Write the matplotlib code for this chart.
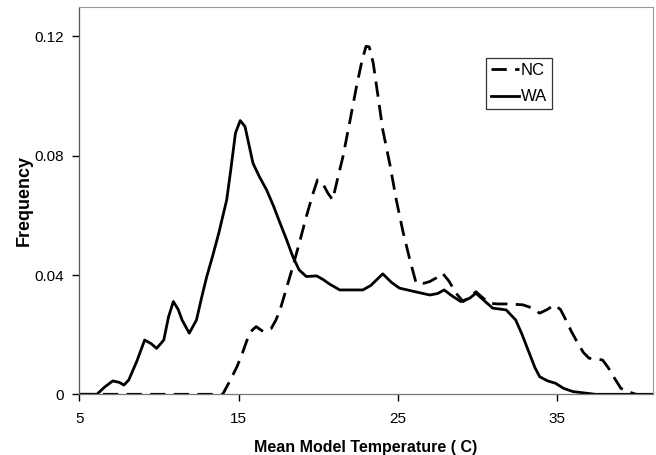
import matplotlib
matplotlib.use("Agg")
import matplotlib.pyplot as plt

# ── data ─────────────────────────────────────────────────────────────────────
wa_x = [5.0, 6.1, 6.6, 7.1, 7.5, 7.8, 8.1, 8.6, 9.1, 9.5, 9.85, 10.3, 10.6,
        10.9, 11.2, 11.45, 11.9, 12.35, 12.7, 13.0, 13.4, 13.75, 14.25, 14.5,
        14.8, 15.1, 15.4, 15.9, 16.3, 16.75, 17.2, 17.6, 18.0, 18.4, 18.8,
        19.25, 19.9, 20.3, 20.7, 21.35, 22.1, 22.8, 23.3, 24.05, 24.6, 25.1,
        26.0, 27.0, 27.5, 27.9, 28.4, 28.95, 29.5, 29.9, 30.4, 30.95, 31.8,
        32.4, 32.8, 33.25, 33.6, 33.9, 34.4, 34.9, 35.4, 36.0, 37.4, 41.0]
wa_y = [0.0, 0.0, 0.0025, 0.0045, 0.0040, 0.0031, 0.0048, 0.011, 0.0182, 0.0170,
        0.0154, 0.0182, 0.026, 0.0311, 0.0285, 0.0249, 0.0205, 0.0249, 0.033,
        0.0395, 0.047, 0.054, 0.0652, 0.075, 0.0876, 0.0918, 0.0898, 0.0775,
        0.073, 0.0686, 0.063, 0.0574, 0.052, 0.0462, 0.0417, 0.0395, 0.0397,
        0.0385, 0.0370, 0.0350, 0.0350, 0.0350, 0.0365, 0.0404, 0.0375, 0.0356,
        0.0345, 0.0333, 0.0338, 0.0350, 0.0330, 0.0311, 0.0322, 0.0339, 0.0315,
        0.0289, 0.0283, 0.0249, 0.020, 0.0138, 0.0090, 0.0059, 0.0045, 0.0037,
        0.0020, 0.0009, 0.0, 0.0]

nc_x = [5.0, 14.0, 14.45, 14.9, 15.25, 15.6, 15.85, 16.1, 16.55, 17.05, 17.35,
        17.6, 18.0, 18.4, 18.85, 19.25, 19.65, 19.95, 20.3, 20.6, 20.9, 21.2,
        21.55, 22.0, 22.4, 22.75, 23.0, 23.2, 23.45, 23.75, 24.05, 24.5, 24.9,
        25.3, 25.75, 26.15, 26.6, 27.0, 27.4, 27.8, 28.2, 28.65, 29.1, 29.5,
        29.9, 30.3, 30.75, 31.3, 31.8, 32.3, 32.85, 33.4, 33.9, 34.4, 34.8,
        35.2, 35.55, 35.9, 36.3, 36.65, 37.0, 37.5, 37.85, 38.2, 38.6, 39.0,
        39.5, 39.95]
nc_y = [0.0, 0.0, 0.0045, 0.0093, 0.0140, 0.0193, 0.0215, 0.0227, 0.0210, 0.0221,
        0.0250, 0.0283, 0.0355, 0.0428, 0.0515, 0.0596, 0.0670, 0.0719, 0.0705,
        0.0675, 0.0652, 0.0720, 0.0797, 0.0920, 0.1032, 0.1120, 0.1167, 0.1165,
        0.1111, 0.1000, 0.0887, 0.0770, 0.0652, 0.0550, 0.0451, 0.0372, 0.0372,
        0.0378, 0.0390, 0.0406, 0.0380, 0.0339, 0.0311, 0.0325, 0.0344, 0.0325,
        0.0305, 0.0303, 0.0303, 0.0302, 0.0300, 0.0290, 0.0272, 0.0285, 0.0300,
        0.0285, 0.0249, 0.0210, 0.0171, 0.0140, 0.0121, 0.0118, 0.0115, 0.0090,
        0.0054, 0.0020, 0.0008, 0.0]

x_ticks = [5, 15, 25, 35]
y_ticks = [0, 0.04, 0.08, 0.12]
y_tick_labels = ["0", "0.04", "0.08", "0.12"]

plt.rcParams["font.family"] = ["Liberation Sans", "DejaVu Sans"]

fig = plt.figure(figsize=(6.56, 4.55), dpi=100)
ax = fig.add_axes([0.121, 0.1334, 0.874, 0.852])

ax.plot(nc_x, nc_y, color="black", lw=2.0, linestyle=(0, (5.5, 3.0)),
        label="NC", solid_joinstyle="round")
ax.plot(wa_x, wa_y, color="black", lw=2.0, label="WA",
        solid_joinstyle="round")

ax.set_xlim(5, 41)
ax.set_ylim(0, 0.13)
ax.set_xticks(x_ticks)
ax.set_xticklabels([str(t) for t in x_ticks])
ax.set_yticks(y_ticks)
ax.set_yticklabels(y_tick_labels)
ax.tick_params(direction="out", length=5, width=1.0, labelsize=11,
               color="black", pad=6)
ax.tick_params(axis="x", pad=8)

for side in ("top", "right"):
    ax.spines[side].set_color("#999999")
    ax.spines[side].set_linewidth(0.8)
    ax.spines[side].set_linestyle((0, (1, 1)))
ax.spines["left"].set_color("#555555")
ax.spines["left"].set_linewidth(0.9)
ax.spines["bottom"].set_color("#777777")
ax.spines["bottom"].set_linewidth(0.9)

ax.set_xlabel("Mean Model Temperature ( C)", fontsize=11.5, fontweight="bold",
              labelpad=10)
ax.set_ylabel("Frequency", fontsize=13, fontweight="bold")
ax.yaxis.set_label_coords(-0.081, 0.5)

leg = ax.legend(loc="upper left", bbox_to_anchor=(0.709, 0.868), fontsize=12,
                frameon=True, fancybox=False, edgecolor="black",
                handlelength=1.7, handletextpad=0.1, borderpad=0.3,
                labelspacing=0.7, borderaxespad=0)
leg.get_frame().set_linewidth(0.9)

fig.savefig("out.png", dpi=100)
